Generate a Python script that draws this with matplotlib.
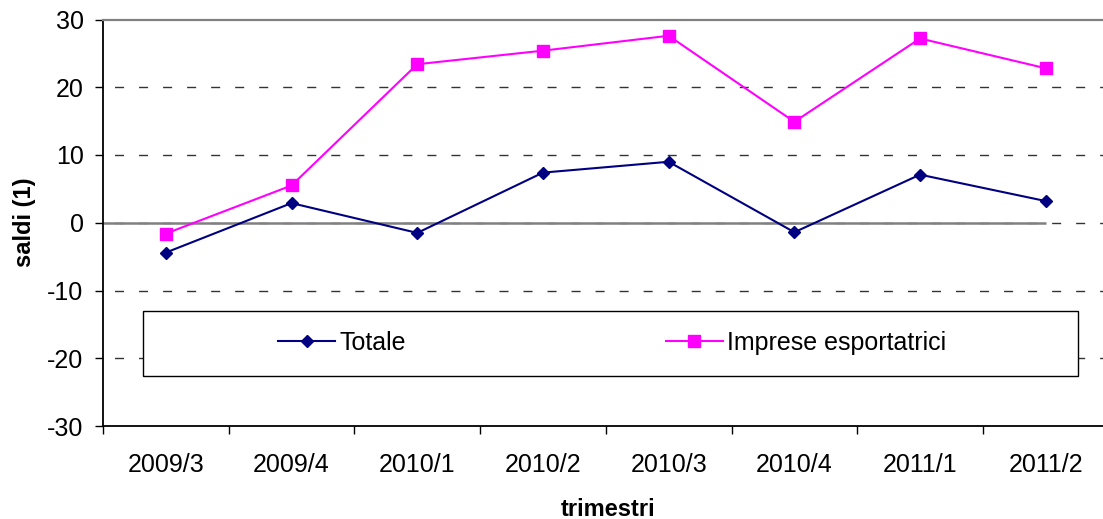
import matplotlib
matplotlib.use("Agg")
import matplotlib.pyplot as plt
from matplotlib.patches import Rectangle
import numpy as np

quarters = ["2009/3", "2009/4", "2010/1", "2010/2", "2010/3", "2010/4", "2011/1", "2011/2"]
totale = [-4.4, 2.9, -1.5, 7.4, 9.0, -1.4, 7.1, 3.2]
esportatrici = [-1.6, 5.5, 23.4, 25.4, 27.6, 14.9, 27.2, 22.8]
y_ticks = [-30, -20, -10, 0, 10, 20, 30]

plt.rcParams["font.family"] = ["Liberation Sans", "DejaVu Sans"]
plt.rcParams["lines.scale_dashes"] = False
plt.rcParams["axes.unicode_minus"] = False

W, H = 1103, 519
fig = plt.figure(figsize=(W / 100, H / 100), dpi=100)
# category axis runs slightly past the right edge of the canvas
ax = fig.add_axes([103 / W, 1 - 426 / H, (1108.6 - 103) / W, (426 - 19.5) / H])

n = len(quarters)
xpos = np.arange(n) + 0.5

# horizontal dashed grid
for v in y_ticks[1:-1]:
    ax.axhline(v, color="#333333", lw=1.0, linestyle=(9, (6.5, 10.8)), zorder=1)
# solid zero reference line
ax.hlines(0, 0, xpos[-1], color="#808080", lw=1.8, zorder=2)

ax.plot(xpos, totale, color="#000080", lw=1.5, marker="D", ms=6.4,
        label="Totale", zorder=4, clip_on=False)
ax.plot(xpos, esportatrici, color="#FF00FF", lw=1.5, marker="s", ms=9,
        label="Imprese esportatrici", zorder=4, clip_on=False)

ax.set_xlim(0, n)
ax.set_ylim(y_ticks[0], y_ticks[-1])
ax.set_yticks(y_ticks)
ax.set_xticks(np.arange(n + 1))
ax.set_xticklabels([])
ax.set_xticks(xpos, minor=True)
ax.set_xticklabels(quarters, minor=True)

ax.tick_params(axis="x", which="major", direction="out", length=6, width=1, color="black")
ax.tick_params(axis="x", which="minor", length=0, pad=19.5, labelsize=18)
ax.tick_params(axis="y", direction="out", length=6, width=1, pad=8, labelsize=18)

for s in ("left", "bottom"):
    ax.spines[s].set_color("black")
    ax.spines[s].set_linewidth(1.3)
ax.spines["top"].set_color("#808080")
ax.spines["top"].set_linewidth(1.6)
ax.spines["right"].set_visible(False)

fig.text(24 / W, 1 - 222 / H, "saldi (1)", rotation=90, ha="center", va="center",
         fontsize=17, fontweight="bold")
fig.text(608 / W, 1 - 516 / H, "trimestri", ha="center", va="baseline",
         fontsize=17, fontweight="bold")

# legend frame
box = Rectangle((143 / W, 1 - 376 / H), 935 / W, 65 / H, transform=fig.transFigure,
                facecolor="white", edgecolor="black", lw=1.0, zorder=3)
ax.add_patch(box)
leg = ax.legend(loc="center", bbox_to_anchor=(612 / W, 1 - 343 / H),
                bbox_transform=fig.transFigure, ncol=2, frameon=False,
                fontsize=18, handlelength=2.3, handletextpad=0.15,
                columnspacing=10.4)
leg.set_zorder(5)

fig.savefig("out.png", dpi=100)
